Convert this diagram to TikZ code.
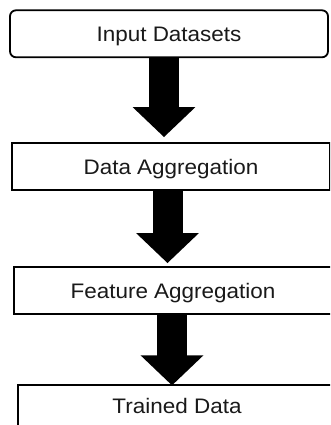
\documentclass[tikz,border=0pt]{standalone}
\usepackage{fontspec}
\setmainfont[FakeStretch=1.07]{Liberation Sans}
\usetikzlibrary{arrows.meta}
\tikzset{
  box/.style={draw=black, line width=1.8pt, fill=white, minimum width=318pt, minimum height=47pt,
    inner sep=0pt, text height=15pt, text depth=0pt, font=\fontsize{21}{25}\selectfont, text=black!90},
  blockarrow/.style={line width=30pt, draw=black, -{Triangle[width=61pt,length=30pt]}}
}
\begin{document}
\begin{tikzpicture}[x=1pt,y=-1pt]
\useasboundingbox (0,0) rectangle (330,425);
\clip (0,0) rectangle (330,425);
\fill[white] (0,0) rectangle (330,425);
\node[box, rounded corners=6pt] (a) at (169,33.8) {Input Datasets};
\node[box] (b) at (171,166.5) {Data Aggregation};
\node[box] (c) at (173,290.5) {Feature Aggregation};
\node[box, anchor=north, minimum height=60pt, text depth=17pt] (d) at (177,383.9) {Trained Data};
\coordinate (x1) at (164,0);
\coordinate (x2) at (167.5,0);
\coordinate (x3) at (172,0);
\draw[blockarrow, shorten >=5pt] (a.south -| x1) -- (b.north -| x1);
\draw[blockarrow, shorten >=3pt] (b.south -| x2) -- (c.north -| x2);
\draw[blockarrow, shorten >=-1.5pt] (c.south -| x3) -- (d.north -| x3);
\end{tikzpicture}
\end{document}
